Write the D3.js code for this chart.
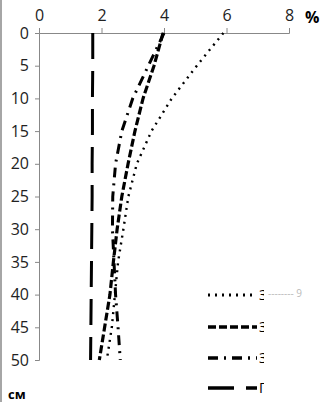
<!DOCTYPE html>
<html>
<meta charset="utf-8">
<head>
<style>
body { margin: 0; background: #fff; }
text { font-family: "Open Sans", sans-serif; }
</style>
<script src="https://cdn.jsdelivr.net/npm/d3@7"></script>
</head>
<body>
<svg width="322" height="402"></svg>
<script>
var depths = [0, 5, 10, 15, 20, 25, 30, 35, 40, 45, 50];
var xTicks = [0, 2, 4, 6, 8];
var yTicks = [0, 5, 10, 15, 20, 25, 30, 35, 40, 45, 50];

var names = ["Залежь 9 лет", "Залежь 5 лет", "Залежь 3 года", "Пашня"];
var s1 = [5.9, 5.05, 4.25, 3.6, 3.13, 2.86, 2.7, 2.53, 2.43, 2.33, 2.17];
var s2 = [3.97, 3.68, 3.33, 3.07, 2.85, 2.65, 2.5, 2.38, 2.27, 2.1, 1.93];
var s3 = [4.0, 3.5, 3.0, 2.65, 2.45, 2.36, 2.35, 2.4, 2.45, 2.53, 2.6];
var s4 = [1.72, 1.72, 1.71, 1.71, 1.7, 1.7, 1.69, 1.68, 1.67, 1.66, 1.65];

var series = [s1, s2, s3, s4];
var dashes = ["2,5", "8,3", "10,6,2,6", "26,12"];
var widths = [2.4, 3.2, 3, 3];

var svg = d3.select("svg");

var x = d3.scaleLinear().domain([0, 8]).range([39, 289]);
var y = d3.scaleLinear().domain([0, 50]).range([33, 360]);

// frame edge on the left
svg.append("line").attr("x1", 1).attr("x2", 1).attr("y1", 0).attr("y2", 402)
  .attr("stroke", "#888").attr("stroke-width", 1.5);

var xAxis = svg.append("g").attr("transform", "translate(0," + y(0) + ")")
  .call(d3.axisTop(x).tickValues(xTicks).tickSize(5).tickPadding(7));
var yAxis = svg.append("g").attr("transform", "translate(" + x(0) + ",0)")
  .call(d3.axisLeft(y).tickValues(yTicks).tickSize(4).tickPadding(6));

[xAxis, yAxis].forEach(function(a) {
  a.selectAll("path, line").attr("stroke", "#888");
  a.selectAll("text").attr("font-size", 16).attr("fill", "#222")
    .attr("font-family", "Open Sans, sans-serif");
});

svg.append("text").attr("x", 305).attr("y", 23).attr("font-size", 16)
  .attr("font-weight", "bold").text("%");
svg.append("text").attr("x", 8).attr("y", 399).attr("font-size", 13)
  .attr("font-weight", "bold").text("см");

var line = d3.line()
  .x(function(d) { return x(d[0]); })
  .y(function(d) { return y(d[1]); });

series.forEach(function(s, i) {
  svg.append("path")
    .datum(s.map(function(v, j) { return [v, depths[j]]; }))
    .attr("d", line)
    .attr("fill", "none")
    .attr("stroke", "#000")
    .attr("stroke-width", widths[i])
    .attr("stroke-dasharray", dashes[i]);
});

svg.append("clipPath").attr("id", "legclip")
  .append("rect").attr("x", 0).attr("y", 0).attr("width", 264).attr("height", 402);

var legY = [295, 327, 358, 388];
var leg = svg.append("g");
names.forEach(function(n, i) {
  leg.append("line").attr("x1", 208).attr("x2", 257)
    .attr("y1", legY[i]).attr("y2", legY[i])
    .attr("stroke", "#000").attr("stroke-width", widths[i] + 0.4)
    .attr("stroke-dasharray", dashes[i]);
  leg.append("text").attr("x", 259).attr("y", legY[i] + 5)
    .attr("font-size", 14).attr("clip-path", "url(#legclip)").text(n);
});
leg.append("text").attr("x", 268).attr("y", 297).attr("font-size", 10)
  .attr("fill", "#bbb").text("--------   9");
</script>
</body>
</html>
